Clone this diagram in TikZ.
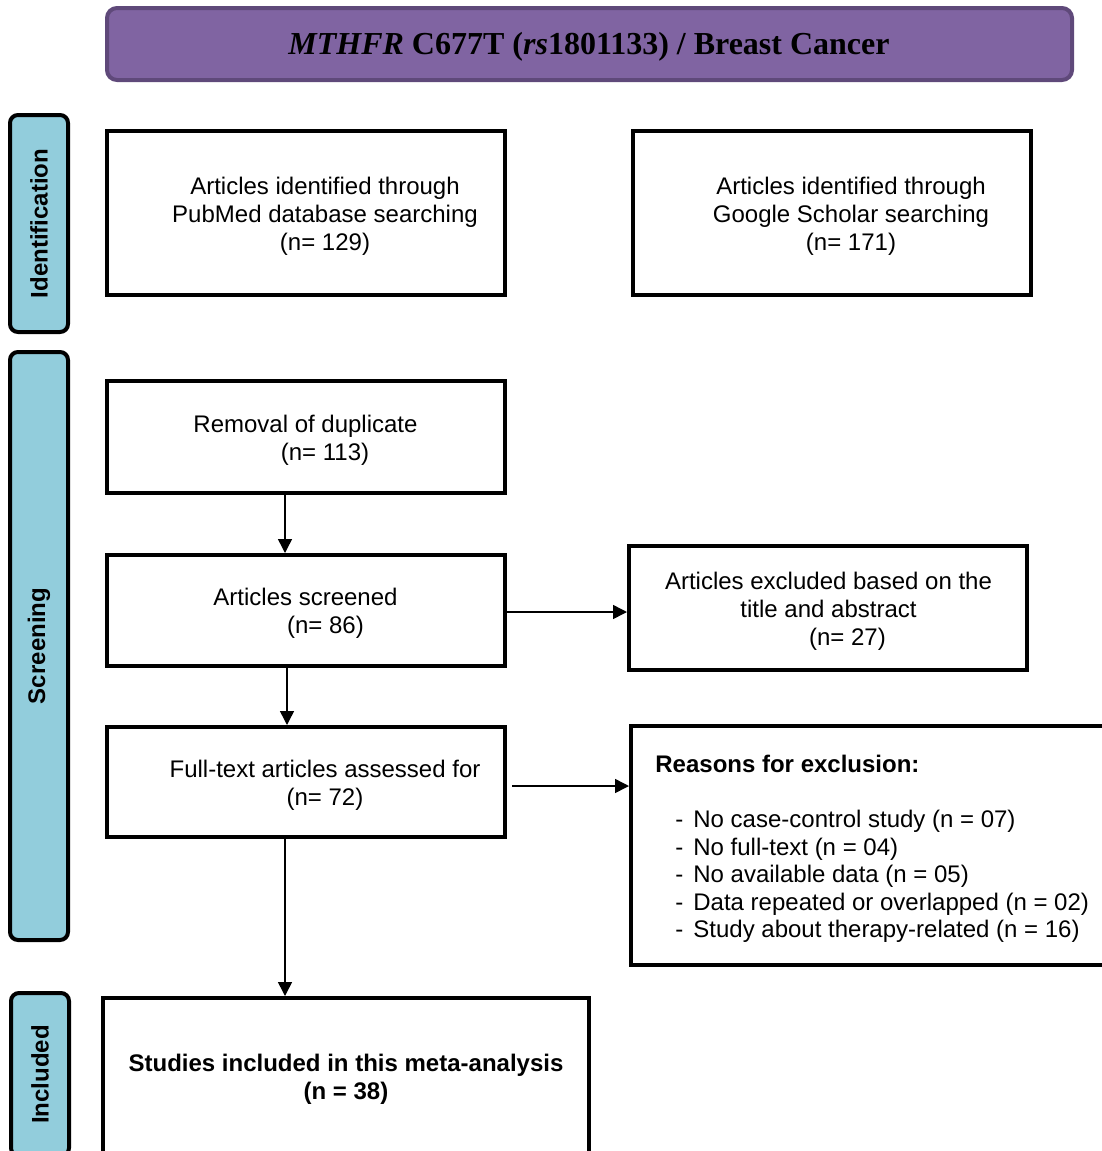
\documentclass[tikz,border=0pt]{standalone}
\usepackage{fontspec}
\setmainfont{Liberation Sans}
\newfontfamily\titlefont{Liberation Serif}
\usetikzlibrary{arrows.meta}
\definecolor{titlefill}{HTML}{8064A2}
\definecolor{titledraw}{HTML}{5F497A}
\definecolor{sidefill}{HTML}{92CDDC}
\begin{document}
\begin{tikzpicture}[x=0.5pt,y=-0.5pt,
  box/.style={draw=black, line width=2pt, minimum width=199pt, inner sep=0pt},
  txt/.style={align=center, inner sep=0pt, font=\fontsize{12}{14}\selectfont},
  side/.style={draw=black, fill=sidefill, line width=2pt, rounded corners=4pt, rotate=90,
    minimum height=29pt, inner sep=0pt, font=\fontsize{12}{14}\selectfont\bfseries},
  arr/.style={line width=0.75pt, -{Triangle[length=7pt,width=7pt]}}]
\useasboundingbox (0,0) rectangle (1102,1151);
% title
\node[draw=titledraw, fill=titlefill, line width=2pt, rounded corners=5pt,
  minimum width=482.5pt, minimum height=36pt, inner sep=0pt] (title) at (589.5,44) {};
\node[inner sep=0pt, font=\titlefont\bfseries\fontsize{16}{18}\selectfont] (titleT) at (589,47)
  {\textit{MTHFR} C677T (\textit{rs}1801133) / Breast Cancer};
% side labels
\node[side, minimum width=108.5pt] (sid) at (39,223.5) {Identification};
\node[side, minimum width=294pt] (sscr) at (39,646) {Screening};
\node[side, minimum width=81.5pt] (sinc) at (40,1074.5) {Included};
% boxes
\node[box, minimum height=82pt] (pub) at (306,213) {};
\node[txt] (pubT) at (325,216) {Articles identified through\\PubMed database searching\\(n= 129)};
\node[box, minimum height=82pt] (goo) at (832,213) {};
\node[txt] (gooT) at (851,216) {Articles identified through\\Google Scholar searching\\(n= 171)};
\node[box, minimum height=56pt] (rem) at (306,437) {};
\node[txt] (remT) at (305.5,440) {Removal of duplicate\\\hspace*{19.5pt}(n= 113)};
\node[box, minimum height=55.5pt] (scr) at (306,610.5) {};
\node[txt] (scrT) at (305.5,613) {Articles screened\\\hspace*{20pt}(n= 86)};
\node[box, minimum height=62pt] (exc) at (828,608) {};
\node[txt] (excT) at (828.5,611) {Articles excluded based on the\\title and abstract\\\hspace*{19pt}(n= 27)};
\node[box, minimum height=55pt] (ft) at (306,782) {};
\node[txt] (ftT) at (325,785) {Full-text articles assessed for\\(n= 72)};
\node[box, minimum width=239.5pt, minimum height=119.5pt] (reas) at (870.5,845.5) {};
\node[txt, anchor=base west, font=\fontsize{12}{14}\selectfont\bfseries] (reasH) at (655,772) {Reasons for exclusion:};
\node[txt, align=left, anchor=north west, font=\fontsize{12}{13.75}\selectfont] (reasL) at (675,810) {-\hspace{5pt}No case-control study (n = 07)\\
-\hspace{5pt}No full-text (n = 04)\\
-\hspace{5pt}No available data (n = 05)\\
-\hspace{5pt}Data repeated or overlapped (n = 02)\\
-\hspace{5pt}Study about therapy-related (n = 16)};
\node[box, minimum width=243pt, minimum height=81pt] (inc) at (346,1079) {};
\node[txt, font=\fontsize{12}{14}\selectfont\bfseries] (incT) at (346,1079) {Studies included in this meta-analysis\\(n = 38)};
% arrows
\draw[arr] (285,0 |- rem.south) -- (285,0 |- scr.north);
\draw[arr] (287,0 |- scr.south) -- (287,0 |- ft.north);
\draw[arr] (285,0 |- ft.south) -- (285,0 |- inc.north);
\draw[arr] (scr.east |- 0,612) -- (exc.west |- 0,612);
\draw[arr] ([xshift=2.5pt]ft.east |- 0,786) -- (reas.west |- 0,786);
\end{tikzpicture}
\end{document}
